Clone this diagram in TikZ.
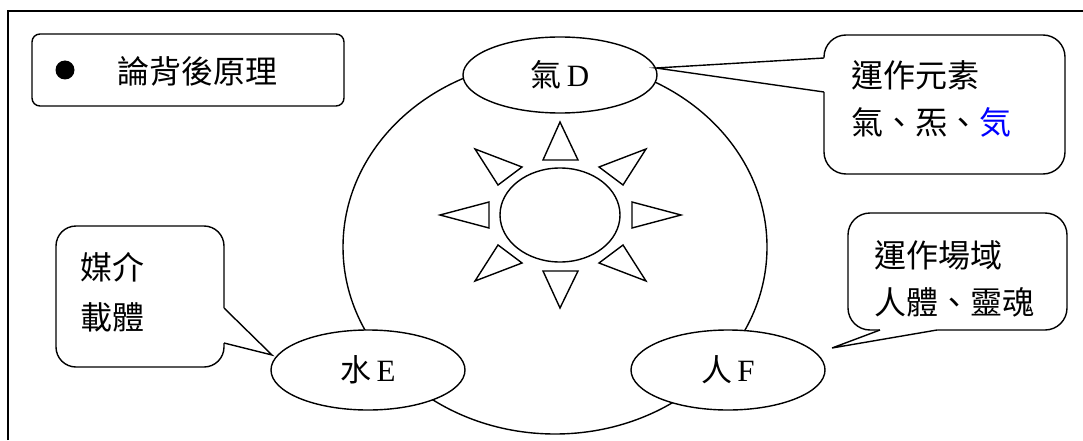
\documentclass[tikz,border=0pt]{standalone}
\usepackage{fontspec}
\setmainfont{Liberation Serif}
\newfontfamily\cjk{Noto Sans CJK TC}
\usetikzlibrary{shapes.geometric,calc}
\begin{document}
\begin{tikzpicture}[x=1pt,y=1pt,
  lw/.style={line width=1.4pt},
  lbl/.style={ellipse, draw, lw, fill=white, minimum width=194pt, minimum height=80pt, inner sep=0pt, font=\fontsize{31}{31}\selectfont},
  callbox/.style={draw, lw, fill=white, rounded corners=22pt, inner sep=0pt},
  txt/.style={inner sep=0pt, align=left, anchor=west, font=\cjk\fontsize{32}{47}\selectfont},
  ray/.style={draw, lw, line join=miter}
]
\useasboundingbox (0,0) rectangle (1083,440);
% frame
\draw[line width=2pt] (8,0) -- (8,429.3) -- (1083,429.3);

% big ring
\node[ellipse, draw, lw, minimum width=424pt, minimum height=374pt, inner sep=0pt] (ring) at (555,193) {};

% three labelled ellipses
\node[lbl, minimum height=76pt] (D) at (560,365) {{\cjk 氣}\hspace{5pt}D};
\node[lbl] (E) at (368,70) {{\cjk 水}\hspace{5pt}E};
\node[lbl] (F) at (728,70) {{\cjk 人}\hspace{5pt}F};

% sun
\node[ellipse, draw, lw, minimum width=120pt, minimum height=94pt, inner sep=0pt] (sun) at (560,225) {};
\draw[ray] (560,318) -- (543,280) -- (578,280) -- cycle;
\draw[ray] (560,132) -- (543,169) -- (578,169) -- cycle;
\draw[ray] (440,225) -- (489,238) -- (489,212) -- cycle;
\draw[ray] (681,225) -- (632,238) -- (632,212) -- cycle;
\draw[ray] (475,291) -- (522,273) -- (498,255) -- cycle;
\draw[ray] (646,291) -- (599,273) -- (623,255) -- cycle;
\draw[ray] (475,159) -- (498,195) -- (522,177) -- cycle;
\draw[ray] (646,159) -- (623,195) -- (599,177) -- cycle;

% title box
\node[callbox, rounded corners=8pt, minimum width=312pt, minimum height=72pt] (title) at (188,370) {};
\node[circle, fill, inner sep=0pt, minimum size=19pt] (bullet) at (65,370) {};
\node[txt, anchor=center] (titletext) at (197,369) {論背後原理};

% callout top right
\node[callbox, minimum width=241pt, minimum height=139pt] (c1) at (944.5,335.5) {};
\coordinate (c1a) at (824,382);
\coordinate (c1b) at (824,348);
\coordinate (tipD) at (656,372);
\fill[white] ($(c1a)+(2,0)$) -- (c1a) -- (tipD) -- (c1b) -- ($(c1b)+(2,0)$) -- cycle;
\draw[lw, line join=miter] (c1a) -- (tipD) -- (c1b);
\node[txt] (t1) at (851,341.5) {運作元素\\氣、炁、{\color{blue}気}};

% callout bottom left
\node[callbox, rounded corners=20pt, minimum width=168pt, minimum height=141pt] (c2) at (140,143.5) {};
\coordinate (c2a) at (224,132);
\coordinate (c2b) at (224,97);
\coordinate (tipE) at (272,85);
\fill[white] ($(c2a)+(-2,0)$) -- (c2a) -- (tipE) -- (c2b) -- ($(c2b)+(-2,0)$) -- cycle;
\draw[lw, line join=miter] (c2a) -- (tipE) -- (c2b);
\node[txt, font=\cjk\fontsize{32}{50}\selectfont] (t2) at (80,148) {媒介\\載體};

% callout bottom right
\node[callbox, minimum width=219pt, minimum height=117pt] (c3) at (957.5,168.5) {};
\coordinate (c3a) at (880,110);
\coordinate (c3b) at (937,110);
\coordinate (tipF) at (832,92);
\fill[white] ($(c3a)+(0,2)$) -- (c3a) -- (tipF) -- (c3b) -- ($(c3b)+(0,2)$) -- cycle;
\draw[lw, line join=miter] (c3a) -- (tipF) -- (c3b);
\node[txt] (t3) at (874,161.5) {運作場域\\人體、靈魂};
\end{tikzpicture}
\end{document}
